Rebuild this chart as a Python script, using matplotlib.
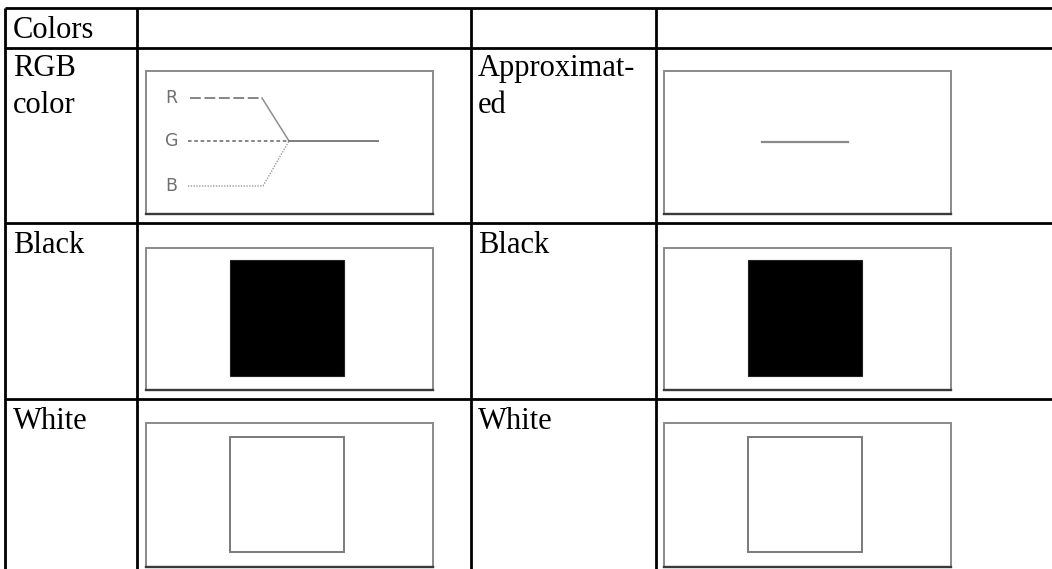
import matplotlib.pyplot as plt
from matplotlib.patches import Rectangle

# --- table content ---
left_labels = [["Colors"], ["RGB", "color"], ["Black"], ["White"]]
right_labels = [[], ["Approximat-", "ed"], ["Black"], ["White"]]
left_swatches = [None, "rgb", "black", "white"]
right_swatches = [None, "approx", "black", "white"]
channel_names = ["R", "G", "B"]

# --- layout (pixels) ---
W, H = 1052, 569
row_lines = [8, 48, 223, 399]
col_lines = [5, 137, 471, 656]
text_x = [13, 478]
first_baseline = [38, 76, 253, 429]
line_step = 37
box_x = [146, 664]
box_w = 287
box_top = [None, 71, 248, 423]
box_h = [None, 143, 142, 144]

fig = plt.figure(figsize=(W / 100, H / 100), dpi=100)
ax = fig.add_axes([0, 0, 1, 1])
ax.set_xlim(0, W)
ax.set_ylim(H, 0)
ax.axis('off')

# grid lines
for y in row_lines:
    ax.plot([col_lines[0], W], [y, y], color='black', lw=2.0, solid_capstyle='butt')
for x in col_lines:
    ax.plot([x, x], [row_lines[0], H], color='black', lw=2.0, solid_capstyle='butt')

font = dict(family='Liberation Serif', fontsize=22, color='black', va='baseline', ha='left')
for r in range(4):
    for i, t in enumerate(left_labels[r]):
        ax.text(text_x[0], first_baseline[r] + i * line_step, t, **font)
    for i, t in enumerate(right_labels[r]):
        ax.text(text_x[1], first_baseline[r] + i * line_step, t, **font)


def frame(x0, y0, w, h):
    ax.add_patch(Rectangle((x0, y0), w, h, fill=False, edgecolor='#8a8a8a', lw=1.4))
    ax.plot([x0, x0 + w], [y0 + h, y0 + h], color='#3a3a3a', lw=1.7)


def swatch(kind, x0, y0, h):
    frame(x0, y0, box_w, h)
    gray = '#7d7d7d'
    if kind == "rgb":
        ry, gy, by = y0 + 27, y0 + 70, y0 + 115
        jx = x0 + 143
        lab_x = x0 + 19
        for name, yy in zip(channel_names, [ry, gy, by]):
            ax.text(lab_x, yy, name, family='DejaVu Sans', fontsize=12.5,
                    color='#707070', ha='left', va='center')
        ax.plot([x0 + 44, x0 + 116], [ry, ry], color=gray, lw=1.3, dashes=(6, 2))
        ax.plot([x0 + 116, jx], [ry, gy], color='#8f8f8f', lw=1.1)
        ax.plot([x0 + 42, jx], [gy, gy], color=gray, lw=1.3, dashes=(2, 1.5))
        ax.plot([x0 + 42, x0 + 117, jx], [by, by, gy], color='#9a9a9a', lw=1.0,
                dashes=(1, 1))
        ax.plot([jx, x0 + 232], [gy, gy], color=gray, lw=1.4)
    elif kind == "approx":
        ax.plot([x0 + 98, x0 + 184], [y0 + 71, y0 + 71], color='#8a8a8a', lw=1.6)
    elif kind == "black":
        ax.add_patch(Rectangle((x0 + 84, y0 + 12), 114, 116, facecolor='black',
                               edgecolor='#222222', lw=0.8))
    elif kind == "white":
        ax.add_patch(Rectangle((x0 + 84, y0 + 14), 114, 115, facecolor='white',
                               edgecolor='#7a7a7a', lw=1.4))


for r in range(4):
    if left_swatches[r]:
        swatch(left_swatches[r], box_x[0], box_top[r], box_h[r])
    if right_swatches[r]:
        swatch(right_swatches[r], box_x[1], box_top[r], box_h[r])

fig.savefig('out.png', dpi=100, facecolor='white')
